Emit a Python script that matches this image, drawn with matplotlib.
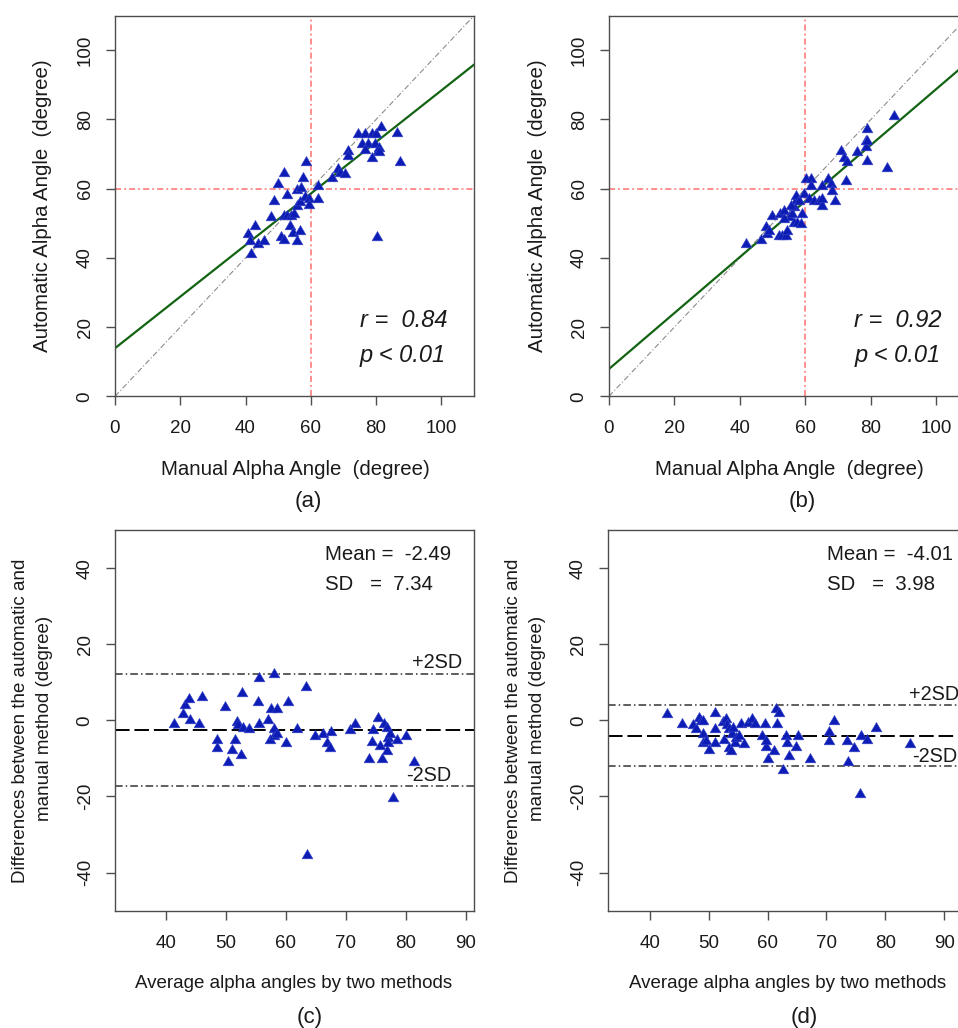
import matplotlib
matplotlib.use('Agg')
import matplotlib.pyplot as plt

W, H = 958, 1028

# (a) manual vs automatic alpha angle, method 1
a_manual = [40.8, 41.3, 41.8, 42.8, 43.8, 45.8, 47.8, 48.8, 49.8, 50.8,
            51.8, 51.8, 51.8, 52.8, 53.8, 52.8, 53.5, 54.8, 54.5, 55.8,
            56.6, 55.8, 56.8, 55.8, 57.0, 57.5, 58.5, 58.1, 59.3, 59.5,
            62.3, 62.3, 66.4, 68.4, 68.9, 70.5, 71.5, 71.5, 74.6, 76.6,
            78.6, 80.1, 81.6, 86.5, 75.6, 77.6, 79.6, 76.6, 80.6, 78.6,
            87.4, 80.4, 80.8, 80.8]
a_auto = [47.2, 45.3, 41.4, 49.6, 44.3, 45.3, 52.2, 56.8, 61.7, 46.4,
          45.5, 64.7, 52.5, 52.5, 52.5, 58.5, 49.6, 53.0, 47.4, 45.3,
          48.2, 55.4, 56.4, 59.9, 60.5, 63.3, 68.1, 57.8, 57.3, 55.7,
          61.2, 57.3, 63.4, 66.0, 64.7, 64.5, 71.3, 69.8, 76.1, 76.1,
          76.1, 76.1, 78.2, 76.5, 73.2, 73.2, 73.2, 71.5, 71.3, 69.3,
          68.1, 46.4, 72.0, 70.8]
a_fit = (13.9, 0.745)
a_stats = ('0.84', '0.01')

# (b) manual vs automatic alpha angle, method 2
b_manual = [41.8, 46.3, 47.9, 48.4, 48.9, 49.9, 51.9, 53.0, 54.0, 52.4,
            53.5, 54.5, 55.0, 56.0, 56.5, 57.0, 57.0, 56.5, 57.5, 58.6,
            58.0, 59.1, 59.6, 60.1, 61.6, 61.6, 61.1, 62.6, 64.2, 65.2,
            65.2, 65.2, 67.0, 67.7, 68.2, 69.2, 70.8, 71.8, 72.3, 72.8,
            75.9, 78.4, 78.4, 78.9, 78.9, 78.9, 85.0, 87.1, 53.6, 55.6]
b_auto = [44.3, 45.4, 49.1, 47.2, 48.1, 52.5, 46.7, 46.7, 46.7, 52.9,
          53.9, 48.1, 52.0, 52.9, 54.9, 56.8, 58.2, 50.5, 50.5, 50.0,
          56.8, 52.9, 58.7, 63.1, 63.1, 61.1, 57.3, 56.8, 56.8, 55.4,
          57.3, 61.1, 63.1, 61.6, 59.7, 56.8, 71.3, 69.3, 62.6, 67.9,
          70.8, 72.2, 74.2, 77.5, 74.2, 68.4, 66.4, 81.4, 51.4, 55.2]
b_fit = (7.9, 0.809)
b_stats = ('0.92', '0.01')

# (c) Bland-Altman, method 1
c_avg = [41.4, 42.9, 43.2, 43.9, 44.1, 45.6, 46.1, 48.5, 48.5, 49.9,
         50.4, 51.1, 51.6, 51.8, 52.1, 52.5, 52.7, 52.9, 53.9, 55.4,
         55.6, 55.6, 57.0, 57.5, 57.4, 58.0, 58.1, 58.1, 58.5, 58.5,
         60.0, 60.4, 61.8, 63.4, 63.6, 64.9, 66.2, 66.8, 67.4, 67.6,
         70.7, 71.6, 73.9, 74.3, 74.6, 75.3, 75.7, 76.0, 76.4, 76.8,
         76.9, 77.0, 77.0, 77.3, 77.8, 78.5, 80.0, 81.4]
c_diff = [-0.8, 2.0, 4.2, 6.0, 0.3, -0.8, 6.5, -4.9, -7.0, 3.9,
          -10.7, -7.6, -4.9, -0.2, -1.0, -8.9, 7.4, -1.7, -1.9, 5.1,
          11.5, -0.6, 0.3, 3.3, -4.8, -3.9, 12.4, -1.9, 3.2, -3.3,
          -5.8, 5.2, -2.1, 8.9, -35.2, -3.9, -3.4, -5.6, -7.0, -2.8,
          -2.4, -0.6, -9.8, -5.4, -2.4, 1.0, -6.5, -9.8, -0.8, -1.7,
          -7.8, -4.3, -5.6, -3.3, -20.2, -4.8, -3.9, -10.7]
c_mean, c_sd = -2.49, 7.34

# (d) Bland-Altman, method 2
d_avg = [43.0, 45.5, 47.4, 47.8, 48.3, 48.7, 49.1, 49.1, 49.0, 49.5,
         50.1, 51.1, 51.1, 51.1, 52.4, 52.6, 53.0, 53.1, 53.4, 53.5,
         53.8, 53.9, 54.2, 54.4, 54.7, 55.2, 55.5, 56.0, 56.6, 57.4,
         57.8, 59.1, 59.5, 59.7, 59.7, 60.1, 61.1, 61.5, 61.6, 62.0,
         62.7, 63.1, 63.3, 63.6, 64.8, 65.2, 67.2, 70.5, 70.5, 71.3,
         73.5, 73.7, 74.7, 75.9, 75.7, 76.8, 78.4, 84.2]
d_diff = [2.0, -0.8, -1.0, -2.1, 1.0, 0.1, 0.1, -3.4, -5.6, -5.2,
          -7.6, 2.1, -1.9, -5.6, -0.2, -4.8, 0.7, -1.0, -2.1, -7.0,
          -7.8, -3.4, -1.7, -5.6, -4.3, -3.9, -0.8, -5.9, -0.4, 0.7,
          -0.8, -3.9, -0.8, -6.8, -5.2, -9.8, -7.8, 3.3, -0.8, 2.3,
          -12.7, -3.9, -5.6, -9.0, -6.7, -3.9, -9.9, -2.8, -5.2, 0.1,
          -5.2, -10.7, -7.0, -3.9, -19.0, -4.9, -1.7, -5.9]
d_mean, d_sd = -4.01, 3.98

BLUE = '#0c1cb4'
AXC = '#4d4d4d'
TXT = '#1a1a1a'
FONT = 'Liberation Sans'
TRI = [(-1, -0.8), (1, -0.8), (0, 0.93), (-1, -0.8)]


def fxy(x, y):
    return x / W, 1 - y / H


def make_axes(fig, left, top, right, bottom):
    ax = fig.add_axes([left / W, 1 - bottom / H,
                       (right - left) / W, (bottom - top) / H])
    for s in ax.spines.values():
        s.set_color(AXC)
        s.set_linewidth(1.0)
    ax.tick_params(direction='out', length=6.3, width=1.0, color=AXC,
                   labelsize=13.5, labelcolor=TXT)
    return ax


def scatter_panel(ax, manual, auto, fit):
    ax.set_xlim(0, 110)
    ax.set_ylim(0, 110)
    ticks = [0, 20, 40, 60, 80, 100]
    ax.set_xticks(ticks)
    ax.set_yticks(ticks)
    ax.set_yticklabels([str(t) for t in ticks], rotation=90, va='center')
    ax.tick_params(axis='x', pad=11)
    ax.tick_params(axis='y', pad=9)
    ax.axvline(60, color='#ff7070', lw=1.1, ls=(0, (4, 2, 1.2, 2)))
    ax.axhline(60, color='#ff7070', lw=1.1, ls=(0, (4, 2, 1.2, 2)))
    ax.plot([0, 110], [0, 110], color='#8c8c8c', lw=0.8,
            ls=(0, (5, 2, 1, 2)))
    ax.axline((0, fit[0]), slope=fit[1], color='#126312', lw=1.6)
    ax.plot(manual, auto, ls='none', marker=TRI, ms=7.8, color=BLUE,
            mec='#3a48c8', mew=0.4)


def ba_panel(ax, avg, diff, mean, sd, xlim):
    ax.set_xlim(*xlim)
    ax.set_ylim(-50, 50)
    ax.set_xticks([40, 50, 60, 70, 80, 90])
    yt = [-40, -20, 0, 20, 40]
    ax.set_yticks(yt)
    ax.set_yticklabels([str(t) for t in yt], rotation=90, va='center')
    ax.tick_params(axis='x', pad=11)
    ax.tick_params(axis='y', pad=9)
    ax.axhline(mean, color='black', lw=1.4, ls=(0, (7.5, 2.5)))
    ax.axhline(mean + 2 * sd, color='#333333', lw=1.1,
               ls=(0, (5, 2, 1, 2)))
    ax.axhline(mean - 2 * sd, color='#333333', lw=1.1,
               ls=(0, (5, 2, 1, 2)))
    ax.plot(avg, diff, ls='none', marker=TRI, ms=7.8, color=BLUE,
            mec='#3a48c8', mew=0.4)


def put(fig, x, y, s, size, **kw):
    kw.setdefault('ha', 'center')
    kw.setdefault('va', 'center')
    fig.text(*fxy(x, y), s, fontsize=size, color=TXT, **kw)


def main():
    plt.rcParams['font.family'] = [FONT, 'DejaVu Sans']
    fig = plt.figure(figsize=(W / 100, H / 100), dpi=100)

    ax1 = make_axes(fig, 115, 15.7, 474, 396.3)
    scatter_panel(ax1, a_manual, a_auto, a_fit)
    ax2 = make_axes(fig, 609, 15.7, 969, 396.3)
    scatter_panel(ax2, b_manual, b_auto, b_fit)
    ax3 = make_axes(fig, 115, 530, 474, 910.7)
    ba_panel(ax3, c_avg, c_diff, c_mean, c_sd, (31.55, 91.38))
    ax4 = make_axes(fig, 608.3, 530, 967.3, 910.7)
    ba_panel(ax4, d_avg, d_diff, d_mean, d_sd, (32.97, 93.9))

    # top row labels
    for cx, ycx, tag, stats, tx in [(295, 43, '(a)', a_stats, 360),
                                    (789, 537.5, '(b)', b_stats, 854.5)]:
        put(fig, cx, 470, 'Manual Alpha Angle  (degree)', 14.7)
        put(fig, ycx, 206, 'Automatic Alpha Angle  (degree)', 14.7,
            rotation=90)
        put(fig, cx + 13.5, 501, tag, 16)
        put(fig, tx, 326.7, 'r =  ' + stats[0], 17, ha='left',
            va='baseline', style='italic')
        put(fig, tx, 361.7, 'p < ' + stats[1], 17, ha='left',
            va='baseline', style='italic')

    # bottom row labels
    for cx, l1, l2, tag, mx, mean, sd in [
            (294, 20.5, 45, '(c)', 325, c_mean, c_sd),
            (788, 513.7, 537.7, '(d)', 827.3, d_mean, d_sd)]:
        put(fig, cx, 983, 'Average alpha angles by two methods', 13.5)
        put(fig, l1, 720.8, 'Differences between the automatic and', 13.5,
            rotation=90)
        put(fig, l2, 718, 'manual method (degree)', 13.5, rotation=90)
        put(fig, cx + 16, 1017, tag, 16)
        put(fig, mx, 560, 'Mean =  %.2f' % mean, 14.7, ha='left',
            va='baseline')
        put(fig, mx, 590, 'SD   =  %.2f' % sd, 14.7, ha='left',
            va='baseline')

    put(fig, 412.3, 668.3, '+2SD', 14.3, ha='left', va='baseline')
    put(fig, 406, 780.7, '-2SD', 14.3, ha='left', va='baseline')
    put(fig, 909, 700, '+2SD', 14.3, ha='left', va='baseline')
    put(fig, 912.3, 761.7, '-2SD', 14.3, ha='left', va='baseline')

    fig.savefig('out.png', dpi=100)


if __name__ == '__main__':
    main()
